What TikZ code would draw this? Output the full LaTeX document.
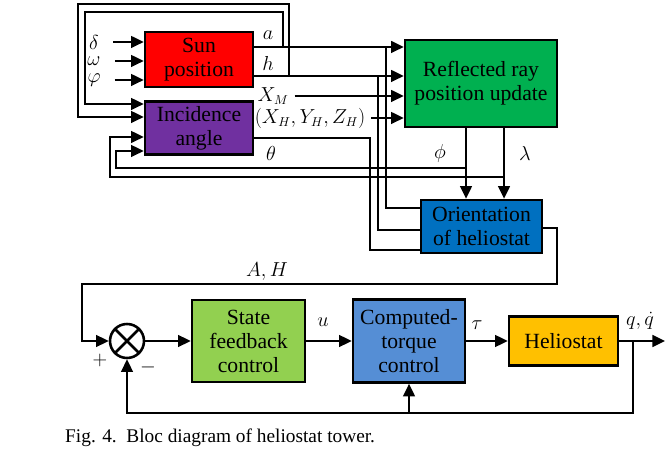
\documentclass[tikz,border=0pt]{standalone}
\usepackage{fontspec}
\setmainfont{Liberation Serif}
\usepackage{tikz}
\usetikzlibrary{calc,arrows.meta}
\definecolor{sunred}{HTML}{FF0000}
\definecolor{incpurple}{HTML}{7030A0}
\definecolor{raygreen}{HTML}{00B050}
\definecolor{orblue}{HTML}{0070C0}
\definecolor{sfgreen}{HTML}{92D050}
\definecolor{ctblue}{HTML}{558ED5}
\definecolor{helorange}{HTML}{FFC000}
\tikzset{
  blk/.style={draw=black, line width=2.2pt, align=center, inner sep=1pt,
    font=\rmfamily\fontsize{18.5}{20.5}\selectfont},
  wire/.style={draw=black, line width=2.2pt, line join=miter},
  arr/.style={wire, -{Triangle[length=3.8mm,width=3.5mm]}},
  lab/.style={inner sep=0pt, font=\fontsize{16}{17}\selectfont},
  summer/.style={circle, draw=black, line width=2.2pt, minimum size=1.02cm,
    inner sep=0pt, path picture={
      \draw[line width=2.2pt] (path picture bounding box.north west) -- (path picture bounding box.south east);
      \draw[line width=2.2pt] (path picture bounding box.south west) -- (path picture bounding box.north east);}},
}
\begin{document}
\begin{tikzpicture}[x=0.03cm, y=-0.03cm]
  \useasboundingbox (0,0) rectangle (671,460);

  % blocks
  \node[blk, fill=sunred, minimum width=3.24cm, minimum height=1.65cm] (sun) at (199,59.5) {Sun\\position};
  \node[blk, fill=incpurple, minimum width=3.24cm, minimum height=1.59cm] (inc) at (199,128) {Incidence\\angle};
  \node[blk, fill=raygreen, minimum width=4.56cm, minimum height=2.61cm] (ray) at (481,83.5) {Reflected ray\\position update};
  \node[blk, fill=orblue, minimum width=3.63cm, minimum height=1.59cm] (orient) at (481.5,226.5) {Orientation\\of heliostat};
  \node[summer] (sum) at (127,341) {};
  \node[blk, fill=sfgreen, minimum width=3.39cm, minimum height=2.46cm] (sfc) at (248.5,341) {State\\feedback\\control};
  \node[blk, fill=ctblue, minimum width=3.36cm, minimum height=2.49cm] (ctc) at (409,341) {Computed-\\torque\\control};
  \node[blk, fill=helorange, minimum width=3.27cm, minimum height=1.47cm] (helio) at (563.5,341) {Heliostat};

  % inputs of the sun position
  \node[lab] (dlt) at (94,42) {$\delta$};
  \node[lab] (omg) at (94,61) {$\omega$};
  \node[lab] (vph) at (94,80) {$\varphi$};
  \foreach \n in {dlt,omg,vph}
    \draw[arr] ([xshift=0.42cm]\n.east) -- (\n -| sun.west);

  % a and h
  \coordinate (aout) at (sun.east |- 0,47);
  \coordinate (hout) at (sun.east |- 0,76);
  \coordinate (aup) at (283,47);
  \coordinate (hup) at (289,76);
  \coordinate (adn) at (386,47);
  \coordinate (hdn) at (378,76);
  \draw[arr] (aout) -- (aout -| ray.west);
  \draw[arr] (hout) -- (hout -| ray.west);
  \node[lab] (alab) at (268,35) {$a$};
  \node[lab] (hlab) at (268,63) {$h$};
  \draw[arr] (aup) |- (85,12) |- (inc.west |- 0,104);
  \draw[arr] (hup) |- (78,4) |- (inc.west |- 0,117);
  \draw[wire] (adn) |- (orient.west |- 0,208);
  \draw[wire] (hdn) |- (orient.west |- 0,230);

  % other inputs of the reflected ray
  \node[lab] (xm) at (273,96) {$X_M$};
  \node[lab] (xyz) at (310,118) {$(X_H,Y_H,Z_H)$};
  \draw[arr] ([xshift=0.18cm]xm.east) -- (xm -| ray.west);
  \draw[arr] ([xshift=0.18cm]xyz.east) -- (xyz -| ray.west);

  % theta
  \coordinate (thout) at (inc.east |- 0,138);
  \coordinate (thdn) at (370,138);
  \draw[wire] (thout) -- (thdn) |- (orient.west |- 0,250);
  \node[lab] (thlab) at (271,153) {$\theta$};

  % phi and lambda
  \coordinate (phout) at (ray.south -| 466,0);
  \coordinate (laout) at (ray.south -| 504,0);
  \coordinate (phbr) at (466,168);
  \coordinate (labr) at (504,177);
  \draw[arr] (phout) -- (phout |- orient.north);
  \draw[arr] (laout) -- (laout |- orient.north);
  \node[lab] (phlab) at (440,153) {$\phi$};
  \node[lab] (lalab) at (525,153) {$\lambda$};
  \draw[arr] (phbr) -| (116,151) -- (inc.west |- 0,151);
  \draw[arr] (labr) -| (110,137) -- (inc.west |- 0,137);

  % A, H to the summer
  \draw[arr] (orient.east |- 0,228) -| (557,284) -| (82,341) -- (sum.west);
  \node[lab] (ahlab) at (267,272) {$A,H$};

  % control loop
  \coordinate (yout) at (665,341);
  \coordinate (fbk) at (633,341);
  \draw[arr] (sum.east) -- (sfc.west);
  \draw[arr] (sfc.east) -- (ctc.west);
  \draw[arr] (ctc.east) -- (helio.west);
  \draw[arr] (helio.east) -- (yout);
  \draw[arr] (fbk) |- (sum.south |- 0,413) -- (sum.south);
  \draw[arr] (ctc.south |- 0,413) -- (ctc.south);
  \node[lab] (ulab) at (323,322) {$u$};
  \node[lab] (taulab) at (477,325) {$\tau$};
  \node[lab] (qlab) at (640,321) {$q,\dot{q}$};
  \node[lab] (plus) at (100,360) {$+$};
  \node[lab] (minus) at (148,367) {$-$};

  \node[anchor=base west, inner sep=0pt, font=\fontsize{16.5}{18}\selectfont] (cap) at (65,442) {Fig. 4.\ \ Bloc diagram of heliostat tower.};
\end{tikzpicture}
\end{document}
